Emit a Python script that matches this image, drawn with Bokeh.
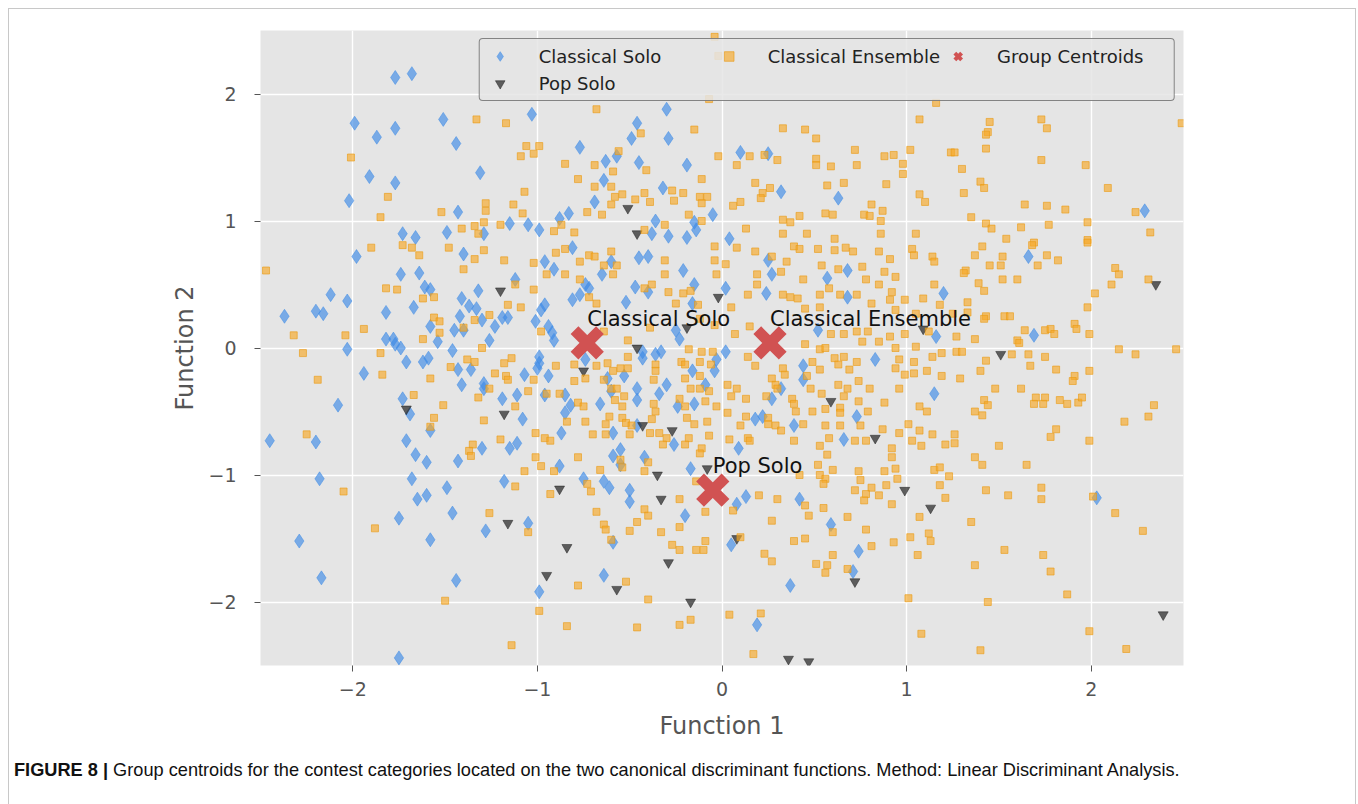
from bokeh.plotting import figure
from bokeh.models import Legend, LegendItem, FixedTicker, Range1d, Div
from bokeh.layouts import column
from bokeh.embed import file_html
from bokeh.resources import INLINE
from bokeh.core.properties import value

# ---------------- data ----------------
classical_solo = [
    (-1.77, 2.13), (-1.68, 2.16), (-1.99, 1.77), (-1.87, 1.66), (-1.77, 1.73), (-1.51, 1.80),
    (-1.44, 1.61), (-1.91, 1.35), (-1.77, 1.30), (-2.02, 1.16), (-1.31, 1.38), (-1.43, 1.07),
    (-1.73, 0.90), (-1.66, 0.87), (-1.49, 0.91), (-1.29, 0.90),
    (-1.03, 1.84), (-0.30, 1.88), (-0.46, 1.77), (-0.49, 1.65), (-0.29, 1.65), (-0.77, 1.58),
    (-0.63, 1.47), (-0.57, 1.51), (-0.45, 1.46), (-0.19, 1.44), (-0.64, 1.32), (-0.32, 1.26),
    (-0.69, 1.15), (-0.83, 1.06), (-0.88, 1.02), (-1.15, 0.98), (-1.05, 0.97), (-0.99, 0.93),
    (-0.36, 1.00), (-0.15, 0.99), (-0.05, 1.05), (-0.38, 0.90), (-0.29, 0.88), (-0.19, 0.87),
    (-0.14, 0.93),
    (0.10, 1.54), (0.25, 1.53), (0.32, 1.23), (0.63, 1.18), (0.04, 0.86), (2.29, 1.08),
    (-1.98, 0.72), (-1.40, 0.74), (-2.12, 0.42), (-2.03, 0.37), (-2.37, 0.25), (-2.20, 0.29),
    (-2.16, 0.27), (-1.74, 0.58), (-1.64, 0.59), (-1.61, 0.48), (-1.58, 0.46), (-1.67, 0.32),
    (-1.82, 0.28), (-1.41, 0.39), (-1.37, 0.33), (-1.33, 0.31), (-1.32, 0.45), (-1.42, 0.25),
    (-1.30, 0.22), (-1.45, 0.14), (-1.40, 0.14), (-1.58, 0.17), (-1.54, 0.05), (-1.82, 0.07),
    (-1.78, 0.07), (-1.77, 0.03), (-1.74, 0.00), (-2.03, -0.01), (-1.71, -0.11), (-1.62, -0.11),
    (-1.59, -0.08), (-1.46, -0.02), (-1.26, 0.06), (-1.94, -0.20), (-1.43, -0.17), (-1.36, -0.17),
    (-1.41, -0.29), (-1.29, -0.28), (-1.29, -0.32), (-2.08, -0.45), (-1.73, -0.40), (-1.69, -0.52),
    (-1.58, -0.65), (-2.45, -0.73), (-2.20, -0.74), (-1.71, -0.73), (-1.30, -0.79),
    (-0.81, 0.79), (-0.96, 0.68), (-0.91, 0.62), (-1.12, 0.54), (-0.65, 0.58), (-0.60, 0.68),
    (-0.45, 0.71), (-0.40, 0.72), (-0.21, 0.61), (-0.74, 0.50), (-0.72, 0.47), (-0.77, 0.42),
    (-0.81, 0.38), (-0.47, 0.48), (-0.40, 0.44), (-0.52, 0.36), (-0.15, 0.50), (-0.16, 0.35),
    (-0.98, 0.30), (-0.96, 0.34), (-1.01, 0.21), (-1.19, 0.24), (-1.16, 0.24), (-1.23, 0.17),
    (-0.94, 0.17), (-0.92, 0.12), (-0.91, 0.06), (-0.23, 0.07), (-0.25, 0.14), (-0.43, -0.03),
    (-0.36, -0.05), (-0.33, -0.03), (-0.43, -0.08), (-0.99, -0.07), (-0.99, -0.12), (-1.00, -0.16),
    (-0.74, -0.09), (-1.07, -0.21), (-0.94, -0.22), (-0.62, -0.24), (-0.53, -0.22), (-0.30, -0.29),
    (-0.16, -0.18), (-0.04, -0.18), (-0.03, -0.09), (-0.09, -0.29), (-1.19, -0.40), (-1.11, -0.37),
    (-0.96, -0.37), (-0.85, -0.37), (-0.82, -0.45), (-0.85, -0.51), (-0.66, -0.44), (-0.60, -0.34),
    (-0.46, -0.32), (-0.46, -0.41), (-0.34, -0.36), (-0.24, -0.46), (-0.15, -0.44), (-1.08, -0.56),
    (-0.87, -0.67), (-0.59, -0.67), (-0.46, -0.61), (-1.11, -0.75), (-1.15, -0.79), (-0.26, -0.76),
    (-0.55, -0.80),
    (0.02, 0.47), (0.27, 0.58), (0.25, 0.69), (0.57, 0.55), (0.68, 0.61), (0.24, 0.43),
    (0.68, 0.40), (1.20, 0.43), (0.52, 0.14), (1.16, 0.09), (0.83, -0.09), (0.44, -0.14),
    (0.44, -0.25), (0.32, -0.32), (0.27, -0.40), (1.15, -0.36), (0.73, -0.54), (0.18, -0.56),
    (0.22, -0.54), (0.39, -0.61), (0.66, -0.72), (0.09, -0.79), (0.02, -0.03),
    (1.66, 0.72), (1.69, 0.10),
    (-2.18, -1.03), (-2.29, -1.52), (-2.17, -1.81), (-1.68, -1.03), (-1.60, -0.90), (-1.43, -0.89),
    (-1.66, -0.84), (-1.49, -1.10), (-1.65, -1.19), (-1.60, -1.16), (-1.46, -1.30), (-1.75, -1.34),
    (-1.28, -1.44), (-1.58, -1.51), (-1.44, -1.83), (-1.75, -2.44),
    (-1.18, -1.05), (-0.88, -0.93), (-0.75, -1.03), (-0.64, -1.05), (-0.61, -1.10), (-0.50, -1.12),
    (-0.50, -1.21), (-0.59, -0.85), (-0.55, -0.92), (-0.42, -0.86), (-0.17, -0.95), (-0.20, -1.32),
    (-1.05, -1.38), (-0.59, -1.53), (-0.64, -1.79), (-0.99, -1.92),
    (0.13, -1.17), (0.08, -1.23), (0.42, -1.19), (0.59, -1.39), (0.05, -1.55), (0.74, -1.60),
    (0.71, -1.76), (0.37, -1.87), (0.19, -2.18), (2.03, -1.18),
]

pop_solo = [
    (-0.51, 1.10), (-0.46, 0.90), (-1.20, 0.45), (-0.02, 0.40), (2.35, 0.50), (-0.46, 0.00),
    (-0.75, -0.18), (-1.71, -0.48), (-1.18, -0.52), (-0.43, -0.61), (0.59, -0.42), (1.09, 0.15),
    (1.51, -0.05), (0.83, -0.71), (-0.27, -0.65), (-0.19, 0.16), (-0.08, -0.95), (-0.35, -1.00),
    (-0.88, -1.11), (-0.33, -1.19), (-1.16, -1.38), (-0.84, -1.57), (-0.29, -1.69), (-0.95, -1.79),
    (-0.57, -1.90), (-0.17, -2.00), (0.99, -1.12), (1.13, -1.26), (0.08, -1.50), (0.72, -1.84),
    (0.36, -2.45), (0.47, -2.47), (2.39, -2.10),
]

classical_ensemble = [
    (-1.33, 1.80), (-2.01, 1.50), (-1.81, 1.19), (-1.85, 1.03), (-1.52, 1.07), (-1.41, 0.94),
    (-1.34, 0.96), (-1.29, 0.99), (-1.28, 1.08), (-1.28, 1.14), (-1.32, 0.90),
    (-0.68, 1.88), (-1.17, 1.77), (-0.15, 1.72), (-1.06, 1.59), (-0.99, 1.59), (-1.09, 1.51),
    (-1.02, 1.53), (-0.44, 1.69), (-0.85, 1.45), (-0.69, 1.44), (-0.56, 1.55), (-0.59, 1.39),
    (-0.41, 1.40), (-0.02, 1.51), (-0.78, 1.33), (-0.69, 1.27), (-0.60, 1.27), (-0.11, 1.33),
    (-1.07, 1.23), (-0.58, 1.19), (-0.54, 1.21), (-0.47, 1.17), (-0.42, 1.22), (-0.27, 1.24),
    (-0.26, 1.16), (-0.21, 1.22), (-0.12, 1.19), (-0.08, 1.19), (-0.11, 1.14), (-0.39, 1.15),
    (-0.60, 1.13), (-1.13, 1.13), (-1.08, 1.06), (-0.73, 1.07), (-0.65, 1.05), (-0.18, 1.05),
    (-0.11, 1.00), (-1.20, 0.97), (-0.87, 0.97), (-0.91, 0.92), (-0.80, 0.91), (-0.31, 0.97),
    (-0.42, 0.93), (-0.04, 2.45), (-0.02, 2.30), (-0.07, 1.96),
    (1.16, 1.93), (1.07, 1.80), (0.33, 1.73), (0.45, 1.72), (0.51, 1.65), (0.15, 1.51),
    (0.08, 1.44), (0.23, 1.52), (0.30, 1.48), (0.51, 1.49), (0.51, 1.44), (0.59, 1.43),
    (0.72, 1.56), (0.73, 1.44), (0.88, 1.51), (0.93, 1.52), (0.98, 1.45), (0.98, 1.37),
    (1.02, 1.56), (1.24, 1.54), (0.18, 1.30), (0.26, 1.26), (0.22, 1.22), (0.21, 1.18),
    (0.10, 1.15), (0.06, 1.12), (0.57, 1.28), (0.66, 1.30), (0.89, 1.29), (0.81, 1.13),
    (0.87, 1.08), (1.07, 1.21), (1.10, 1.15), (0.33, 1.01), (0.37, 0.99), (0.42, 1.04),
    (0.56, 1.06), (0.60, 1.05), (0.77, 1.05), (0.80, 1.04), (0.86, 1.00), (0.13, 0.94),
    (0.33, 0.90), (0.46, 0.90), (0.61, 0.86), (0.86, 0.90), (1.05, 0.90),
    (1.45, 1.78), (1.44, 1.70), (1.43, 1.68), (1.43, 1.57), (1.73, 1.80), (1.76, 1.73),
    (1.73, 1.48), (1.97, 1.44), (1.26, 1.54), (1.30, 1.41), (1.40, 1.31), (1.42, 1.26),
    (1.31, 1.22), (1.64, 1.13), (1.76, 1.12), (1.86, 1.09), (2.09, 1.26), (2.24, 1.07),
    (1.35, 1.03), (1.43, 0.98), (1.46, 0.94), (1.62, 0.95), (1.77, 0.97), (1.98, 0.99),
    (2.32, 0.91), (1.54, 0.86), (1.69, 0.83), (1.98, 0.85), (2.49, 1.77),
    (-1.90, 0.79), (-1.73, 0.81), (-1.68, 0.79), (-1.64, 0.73), (-1.48, 0.79), (-1.29, 0.77),
    (-1.34, 0.70), (-1.40, 0.62), (-1.82, 0.47), (-1.76, 0.46), (-1.62, 0.39), (-1.56, 0.40),
    (-1.56, 0.24), (-1.53, 0.21), (-1.53, 0.12), (-1.40, 0.16), (-1.34, 0.22), (-1.26, 0.26),
    (-1.94, 0.15), (-2.04, 0.10), (-2.32, 0.10), (-1.62, 0.07), (-2.47, 0.61), (-2.27, -0.04),
    (-1.85, -0.04), (-1.30, 0.00), (-1.38, -0.09), (-1.34, -0.11), (-1.47, -0.15), (-1.84, -0.21),
    (-1.58, -0.24), (-2.19, -0.25), (-1.26, -0.32), (-1.32, -0.39), (-1.67, -0.37), (-1.51, -0.45),
    (-1.56, -0.55), (-1.58, -0.62), (-1.29, -0.57), (-2.25, -0.68), (-1.35, -0.76), (-1.37, -0.81),
    (-1.18, 0.69), (-1.02, 0.67), (-0.90, 0.75), (-0.85, 0.78), (-0.72, 0.73), (-0.69, 0.72),
    (-0.77, 0.68), (-0.60, 0.76), (-0.95, 0.58), (-0.85, 0.58), (-0.64, 0.65), (-0.57, 0.65),
    (-0.59, 0.58), (-0.31, 0.69), (-0.31, 0.58), (-0.04, 0.80), (-0.04, 0.69), (-0.03, 0.58),
    (-0.77, 0.54), (-1.02, 0.46), (-1.12, 0.50), (-0.72, 0.40), (-0.68, 0.35), (-0.42, 0.47),
    (-0.38, 0.50), (-0.29, 0.44), (-0.21, 0.43), (-0.17, 0.45), (-0.25, 0.35), (-0.13, 0.34),
    (-1.16, 0.34), (-1.09, 0.32), (-0.98, 0.13), (-0.64, 0.13), (-0.51, 0.06), (-0.39, 0.16),
    (-0.12, 0.23), (-0.04, 0.18), (-0.18, -0.01), (-0.11, -0.03), (-0.05, -0.03), (-0.51, -0.07),
    (-0.62, -0.12), (-1.14, -0.08), (-1.18, -0.12), (-1.23, -0.20), (-1.17, -0.22), (-1.16, -0.25),
    (-0.90, -0.14), (-0.80, -0.13), (-0.68, -0.14), (-0.59, -0.18), (-0.55, -0.16), (-0.51, -0.16),
    (-0.36, -0.13), (-0.36, -0.18), (-0.22, -0.11), (-0.20, -0.13), (-0.12, -0.11), (-0.06, -0.13),
    (-1.02, -0.25), (-0.80, -0.26), (-0.74, -0.24), (-0.64, -0.25), (-0.60, -0.32), (-0.57, -0.32),
    (-0.53, -0.38), (-0.37, -0.25), (-0.20, -0.24), (-0.12, -0.22), (-0.17, -0.32), (-0.12, -0.32),
    (-0.07, -0.34), (-1.05, -0.34), (-0.95, -0.36), (-0.88, -0.36), (-0.78, -0.43), (-0.75, -0.46),
    (-0.58, -0.41), (-0.54, -0.46), (-0.37, -0.44), (-0.36, -0.50), (-0.23, -0.40), (-0.20, -0.46),
    (-0.09, -0.42), (-0.03, -0.46), (-1.12, -0.46), (-0.84, -0.58), (-0.74, -0.58), (-0.61, -0.54),
    (-0.54, -0.55), (-0.52, -0.59), (-0.63, -0.60), (-0.49, -0.61), (-0.38, -0.56), (-0.19, -0.55),
    (-0.15, -0.60), (-0.08, -0.58), (-1.01, -0.67), (-0.96, -0.71), (-0.93, -0.73), (-0.70, -0.68),
    (-0.63, -0.68), (-0.50, -0.68), (-0.39, -0.67), (-0.34, -0.67), (-0.30, -0.71), (-0.18, -0.71),
    (-0.07, -0.69), (-1.20, -0.72), (-0.32, -0.76), (-0.20, -0.76), (-0.11, -0.79),
    (0.08, 0.79), (0.18, 0.76), (0.39, 0.80), (0.42, 0.78), (0.52, 0.78), (0.61, 0.77),
    (0.67, 0.79), (0.71, 0.76), (0.85, 0.76), (0.91, 0.70), (1.03, 0.78), (1.04, 0.73),
    (1.14, 0.72), (1.15, 0.68), (0.02, 0.66), (0.27, 0.72), (0.35, 0.68), (0.19, 0.58),
    (0.32, 0.60), (0.44, 0.54), (0.54, 0.65), (0.63, 0.62), (0.76, 0.64), (0.88, 0.60),
    (0.94, 0.56), (0.19, 0.50), (0.33, 0.42), (0.37, 0.40), (0.41, 0.39), (0.53, 0.42),
    (0.58, 0.47), (0.64, 0.42), (0.73, 0.42), (0.78, 0.54), (0.85, 0.50), (0.92, 0.44),
    (0.99, 0.38), (1.09, 0.39), (1.15, 0.50), (0.05, 0.32), (0.14, 0.42), (0.45, 0.31),
    (0.53, 0.32), (0.81, 0.35), (0.91, 0.38), (0.94, 0.30), (1.05, 0.27), (1.18, 0.34),
    (1.25, 0.27), (0.15, 0.17), (0.07, 0.11), (0.59, 0.11), (0.66, 0.11), (0.73, 0.13),
    (0.79, 0.13), (0.91, 0.09), (0.99, 0.11), (1.12, 0.13), (0.85, 0.05), (0.94, 0.00),
    (1.05, 0.01), (0.76, 0.05), (0.45, 0.03), (0.53, -0.01), (0.56, 0.00), (0.61, -0.08),
    (0.66, -0.07), (0.73, -0.11), (0.96, -0.09), (1.04, -0.11), (1.14, -0.07), (1.19, -0.04),
    (0.14, -0.07), (0.18, -0.14), (0.33, -0.16), (0.49, -0.11), (0.53, -0.17), (0.63, -0.13),
    (0.69, -0.17), (0.94, -0.16), (0.99, -0.21), (1.04, -0.20), (1.11, -0.18), (1.19, -0.22),
    (0.27, -0.24), (0.34, -0.21), (0.46, -0.22), (0.48, -0.32), (0.03, -0.29), (0.08, -0.32),
    (0.29, -0.29), (0.30, -0.32), (0.63, -0.29), (0.68, -0.32), (0.74, -0.26), (0.80, -0.32),
    (0.96, -0.32), (0.05, -0.38), (0.13, -0.40), (0.24, -0.38), (0.38, -0.40), (0.54, -0.36),
    (0.66, -0.38), (0.74, -0.42), (0.88, -0.43), (1.07, -0.46), (1.11, -0.50), (0.03, -0.51),
    (0.13, -0.54), (0.25, -0.55), (0.39, -0.44), (0.40, -0.50), (0.49, -0.50), (0.56, -0.48),
    (0.64, -0.47), (0.64, -0.51), (0.79, -0.50), (0.10, -0.61), (0.25, -0.60), (0.29, -0.61),
    (0.32, -0.65), (0.44, -0.60), (0.56, -0.61), (0.64, -0.61), (0.75, -0.61), (0.87, -0.64),
    (1.01, -0.60), (1.07, -0.65), (1.14, -0.68), (0.04, -0.72), (0.14, -0.71), (0.15, -0.73),
    (0.39, -0.73), (0.53, -0.77), (0.58, -0.71), (0.72, -0.73), (0.78, -0.73), (0.96, -0.67),
    (0.92, -0.79), (1.03, -0.73), (1.08, -0.77), (1.21, -0.76),
    (1.41, 0.80), (1.52, 0.72), (1.51, 0.65), (1.37, 0.73), (1.45, 0.65), (1.32, 0.61),
    (1.31, 0.59), (1.71, 0.65), (1.76, 0.73), (1.82, 0.69), (1.98, 0.83), (1.68, 0.81),
    (1.39, 0.51), (1.52, 0.54), (1.60, 0.54), (1.42, 0.45), (2.13, 0.63), (2.15, 0.58),
    (2.11, 0.50), (2.31, 0.54), (2.02, 0.43), (1.98, 0.32), (1.33, 0.36), (1.33, 0.28),
    (1.43, 0.25), (1.42, 0.23), (1.53, 0.25), (1.56, 0.25), (1.64, 0.14), (1.75, 0.14),
    (1.78, 0.15), (1.80, 0.11), (1.91, 0.19), (1.92, 0.15), (1.99, 0.11), (1.60, 0.06),
    (1.61, 0.04), (1.27, 0.09), (1.37, 0.07), (1.27, -0.03), (1.30, -0.03), (1.57, -0.05),
    (1.66, -0.05), (1.75, -0.07), (2.15, -0.01), (2.24, -0.05), (2.46, -0.01), (1.43, -0.10),
    (1.67, -0.14), (1.40, -0.18), (1.81, -0.17), (1.99, -0.18), (1.91, -0.22), (1.90, -0.26),
    (1.29, -0.24), (1.48, -0.32), (1.62, -0.32), (1.70, -0.39), (1.75, -0.39), (1.69, -0.44),
    (1.74, -0.44), (1.83, -0.41), (1.87, -0.44), (1.93, -0.43), (1.95, -0.39), (1.42, -0.41),
    (1.44, -0.45), (1.37, -0.50), (1.41, -0.53), (2.34, -0.45), (2.18, -0.58), (2.31, -0.54),
    (1.26, -0.68), (1.81, -0.64), (1.78, -0.70), (1.99, -0.73), (1.50, -0.77), (1.26, -0.75),
    (-2.05, -1.13), (-1.88, -1.42), (-1.50, -1.99), (-1.36, -0.85), (-1.26, -1.30),
    (-1.01, -0.86), (-0.98, -0.93), (-1.07, -0.97), (-0.91, -0.97), (-0.78, -0.86), (-0.66, -0.96),
    (-0.55, -0.88), (-0.54, -0.94), (-0.40, -0.90), (-0.42, -0.97), (-0.12, -0.83), (-0.14, -1.05),
    (-1.12, -1.09), (-0.93, -1.15), (-0.73, -1.07), (-0.71, -1.13), (-0.23, -1.19), (-0.09, -1.29),
    (-0.68, -1.29), (-0.42, -1.27), (-0.40, -1.32), (-0.46, -1.37), (-0.50, -1.44), (-0.64, -1.39),
    (-0.63, -1.43), (-0.60, -1.51), (-0.33, -1.45), (-0.23, -1.41), (-1.05, -1.45), (-0.27, -1.55),
    (-0.23, -1.59), (-0.14, -1.59), (-0.10, -1.59), (-0.09, -1.52), (-0.78, -1.87), (-0.52, -1.84),
    (-0.40, -1.98), (-0.99, -2.07), (-0.84, -2.19), (-0.46, -2.20), (-0.23, -2.18), (-0.17, -2.14),
    (-1.14, -2.34),
    (0.57, -0.84), (0.52, -0.92), (0.60, -0.96), (0.42, -1.00), (0.53, -1.00), (0.56, -1.03),
    (0.55, -1.07), (0.74, -0.97), (0.75, -1.04), (0.88, -0.97), (0.94, -0.95), (0.92, -0.86),
    (0.95, -1.03), (1.15, -0.96), (1.18, -0.94), (1.23, -1.01), (1.18, -1.08), (1.21, -1.18),
    (0.72, -1.12), (0.81, -1.10), (0.89, -1.08), (0.85, -1.16), (0.78, -1.15), (0.77, -1.20),
    (0.92, -1.23), (1.07, -1.33), (0.20, -1.16), (0.30, -1.19), (0.45, -1.24), (0.55, -1.26),
    (0.06, -1.28), (0.47, -1.32), (0.27, -1.36), (0.68, -1.33), (0.60, -1.45), (0.78, -1.43),
    (0.10, -1.49), (0.39, -1.52), (0.45, -1.50), (0.93, -1.53), (1.02, -1.49), (1.12, -1.46),
    (1.13, -1.52), (0.81, -1.56), (1.06, -1.63), (0.23, -1.62), (0.27, -1.68), (0.60, -1.63),
    (0.51, -1.70), (0.57, -1.71), (0.56, -1.77), (0.68, -1.74), (1.01, -1.97), (0.04, -2.10),
    (0.21, -2.09), (1.08, -2.25), (0.17, -2.41),
    (1.37, -0.86), (1.41, -0.92), (1.65, -0.92), (1.43, -1.12), (1.55, -1.16), (1.73, -1.10),
    (1.73, -1.19), (2.01, -1.17), (2.13, -1.30), (2.28, -1.44), (1.35, -1.37), (1.53, -1.59),
    (1.74, -1.63), (1.37, -1.71), (1.78, -1.76), (1.87, -1.94), (1.44, -2.00), (1.99, -2.23),
    (1.40, -2.38), (2.19, -2.37),
]

centroid_labels = ["Classical Solo", "Classical Ensemble", "Pop Solo"]
centroid_x = [-0.73, 0.26, -0.05]
centroid_y = [0.04, 0.04, -1.12]

tick_values = [-2, -1, 0, 1, 2]
tick_labels = ["\u22122", "\u22121", "0", "1", "2"]

caption_bold = "FIGURE 8 |"
caption_text = ("Group centroids for the contest categories located on the two canonical "
                "discriminant functions. Method: Linear Discriminant Analysis.")

# ---------------- figure ----------------
FONT = "DejaVu Sans"
p = figure(width=1342, height=741, output_backend="svg", toolbar_location=None,
           x_range=Range1d(-2.5, 2.5), y_range=Range1d(-2.5, 2.5),
           min_border_left=251, min_border_right=168, min_border_top=21, min_border_bottom=85)

p.background_fill_color = "#E5E5E5"
p.border_fill_color = "white"
p.outline_line_color = None

for ax in (p.xaxis[0], p.yaxis[0]):
    ax.ticker = FixedTicker(ticks=tick_values)
    ax.major_label_overrides = {v: l for v, l in zip(tick_values, tick_labels)}
    ax.axis_line_color = None
    ax.major_tick_in = 0
    ax.major_tick_out = 6
    ax.major_tick_line_color = "#555555"
    ax.minor_tick_line_color = None
    ax.major_label_text_font = FONT
    ax.major_label_text_font_size = "19px"
    ax.major_label_text_color = "#555555"
    ax.axis_label_text_font = FONT
    ax.axis_label_text_font_size = "24px"
    ax.axis_label_text_font_style = "normal"
    ax.axis_label_text_color = "#555555"

p.xaxis.axis_label = "Function 1"
p.yaxis.axis_label = "Function 2"
p.xaxis.major_label_standoff = 10
p.yaxis.major_label_standoff = 18
p.xaxis.axis_label_standoff = 13
p.yaxis.axis_label_standoff = 6

p.xgrid.ticker = FixedTicker(ticks=tick_values)
p.ygrid.ticker = FixedTicker(ticks=tick_values)
p.grid.grid_line_color = "white"
p.grid.grid_line_width = 1.4

cs_x = [a for a, b in classical_solo]
cs_y = [b for a, b in classical_solo]
ps_x = [a for a, b in pop_solo]
ps_y = [b for a, b in pop_solo]
ce_x = [a for a, b in classical_ensemble]
ce_y = [b for a, b in classical_ensemble]

CENTROID_RED = "#d15252"

r_cs = p.scatter(cs_x, cs_y, marker="diamond", size=14, fill_color="#3d8be6",
                 fill_alpha=0.65, line_color="#3d8be6", line_alpha=0.5)
r_ps = p.scatter(ps_x, ps_y, marker="inverted_triangle", size=10, fill_color="#222222",
                 fill_alpha=0.7, line_color="#222222", line_alpha=0.5)
r_ce = p.scatter(ce_x, ce_y, marker="square", size=7, fill_color="#f7a928",
                 fill_alpha=0.65, line_color="#e99a10", line_alpha=0.6)
r_gc = p.scatter(centroid_x, centroid_y, marker="x", size=36, line_color=CENTROID_RED,
                 line_width=11)
# legend-only proxy (no data points) so the legend shows a readable X
r_gc_legend = p.scatter([float("nan")], [float("nan")], marker="x", size=36,
                        line_color=CENTROID_RED, line_width=4)

p.text(centroid_x, centroid_y, text=centroid_labels, text_font=value(FONT),
       text_font_size="21px", text_color="#111111", text_baseline="alphabetic",
       text_align="left", y_offset=-24)

legend = Legend(items=[LegendItem(label="Classical Solo", renderers=[r_cs]),
                       LegendItem(label="Classical Ensemble", renderers=[r_ce]),
                       LegendItem(label="Group Centroids", renderers=[r_gc_legend]),
                       LegendItem(label="Pop Solo", renderers=[r_ps])],
                location="top_right", orientation="horizontal", ncols=3)
legend.margin = 8
legend.padding = 5
legend.spacing = 3
legend.glyph_width = 30
legend.glyph_height = 24
legend.label_standoff = 24
legend.label_width = 172
legend.label_height = 24
legend.label_text_font = FONT
legend.label_text_font_size = "18px"
legend.label_text_color = "#222222"
legend.border_line_color = "#222222"
legend.border_line_width = 1
legend.border_radius = 4
legend.background_fill_color = "#E5E5E5"
legend.background_fill_alpha = 0.85
p.add_layout(legend)

caption = Div(text="<b>%s</b> %s" % (caption_bold, caption_text), width=1336, height=45,
              styles={"font-family": "'Liberation Sans', Arial, sans-serif",
                      "font-size": "18.2px", "color": "#111111",
                      "padding-top": "2px", "padding-left": "0px"})

layout = column(p, caption, margin=(8, 8, 8, 8), spacing=0,
                styles={"border": "1px solid #c8c8c8"})

open("out.html", "w").write(file_html(layout, INLINE))
